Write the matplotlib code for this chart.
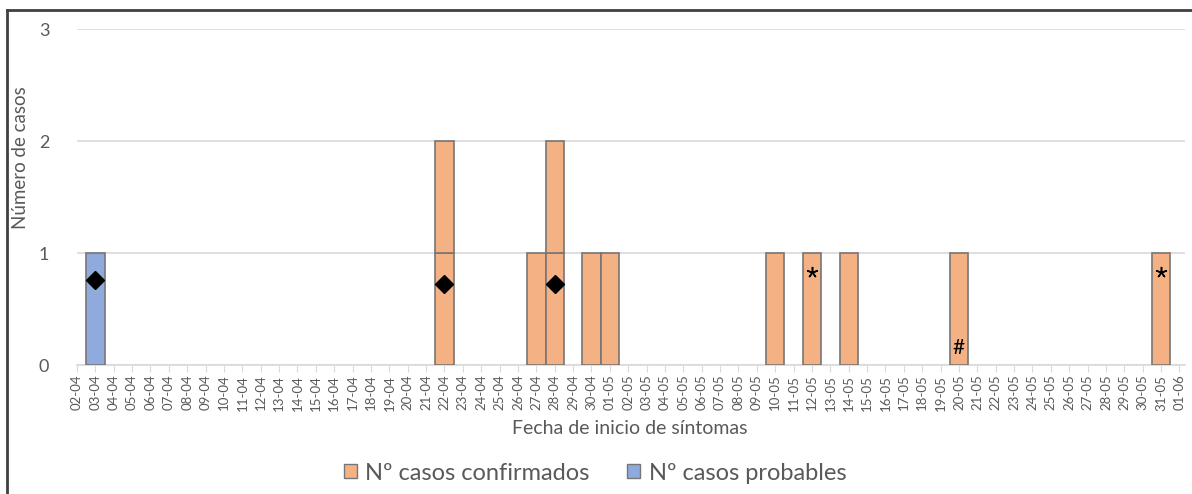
import numpy as np
import matplotlib.pyplot as plt
from matplotlib.lines import Line2D
from matplotlib.patches import Patch

# fechas 02-04 .. 01-06
fechas = ([f"{d:02d}-04" for d in range(2, 31)] +
          [f"{d:02d}-05" for d in range(1, 32)] + ["01-06"])

# casos por fecha (solo dias con casos)
confirmados = {"22-04": 2, "27-04": 1, "28-04": 2, "30-04": 1, "01-05": 1,
               "10-05": 1, "12-05": 1, "14-05": 1, "20-05": 1, "31-05": 1}
probables = {"03-04": 1}

# simbolos sobre las barras: (fecha, altura)
diamantes = [("03-04", 0.76), ("22-04", 0.72), ("28-04", 0.72)]
asteriscos = [("12-05", 0.83), ("31-05", 0.83)]
almohadillas = [("20-05", 0.15)]

c_conf = "#F4B183"
c_prob = "#8FAADC"
c_edge = "#767676"
c_text = "#595959"

plt.rcParams['font.family'] = ['Lato', 'DejaVu Sans']

W, H = 1192, 494
fig = plt.figure(figsize=(W / 100, H / 100), dpi=100)
ax = fig.add_axes([77 / W, 1 - 365 / H, (1185 - 77) / W, (365 - 29) / H])

idx = {f: i for i, f in enumerate(fechas)}

# barras apiladas por caso (cada caso con su borde)
for serie, col in [(confirmados, c_conf), (probables, c_prob)]:
    for f, n in serie.items():
        for k in range(n):
            ax.bar(idx[f], 1, bottom=k, width=1.0, color=col,
                   edgecolor=c_edge, linewidth=1.2, zorder=3)

for f, y in diamantes:
    ax.plot(idx[f], y, marker='D', color='black', markersize=9, zorder=4)
for f, y in asteriscos:
    ax.plot(idx[f], y, marker=(5, 2, 0), color='black', markersize=8,
            markeredgewidth=1.1, zorder=4)
for f, y in almohadillas:
    ax.text(idx[f], y, "#", ha='center', va='center', fontsize=15,
            color='black', zorder=4)

ax.set_xlim(0, 60.3)
ax.set_ylim(0, 3)
ax.set_yticks([0, 1, 2, 3])
ax.set_xticks(range(len(fechas)))
ax.set_xticklabels(fechas, rotation=90, fontsize=9.5, color=c_text)
ax.tick_params(axis='y', length=0, labelsize=13, labelcolor=c_text, pad=20)
ax.tick_params(axis='x', length=5, color="#d9d9d9", pad=2)
ax.grid(axis='y', color="#d9d9d9", linewidth=1.2, zorder=0)
for s in ['top', 'right', 'left']:
    ax.spines[s].set_visible(False)
ax.spines['bottom'].set_color("#d9d9d9")
ax.spines['bottom'].set_linewidth(1.2)

fig.text(630 / W, 1 - 428 / H, "Fecha de inicio de síntomas",
         ha='center', va='center', fontsize=14, color=c_text)
fig.text(21 / W, 1 - 158 / H, "Número de casos", rotation=90,
         ha='center', va='center', fontsize=13.5, color=c_text)

handles = [Patch(facecolor=c_conf, edgecolor=c_edge),
           Patch(facecolor=c_prob, edgecolor=c_edge)]
fig.legend(handles, ["Nº casos confirmados", "Nº casos probables"],
           loc='center', bbox_to_anchor=(595 / W, 1 - 473 / H), ncol=2,
           frameon=False, fontsize=17, labelcolor=c_text,
           handlelength=0.55, handleheight=0.55, handletextpad=0.35,
           columnspacing=1.6, borderpad=0)

# marco del grafico
fig.add_artist(Line2D([7 / W, 7 / W], [0, 1 - 10 / H],
                      transform=fig.transFigure, color="#404040", linewidth=2))
fig.add_artist(Line2D([7 / W, 1], [1 - 10 / H, 1 - 10 / H],
                      transform=fig.transFigure, color="#404040", linewidth=2))

fig.savefig("out.png", dpi=100)
